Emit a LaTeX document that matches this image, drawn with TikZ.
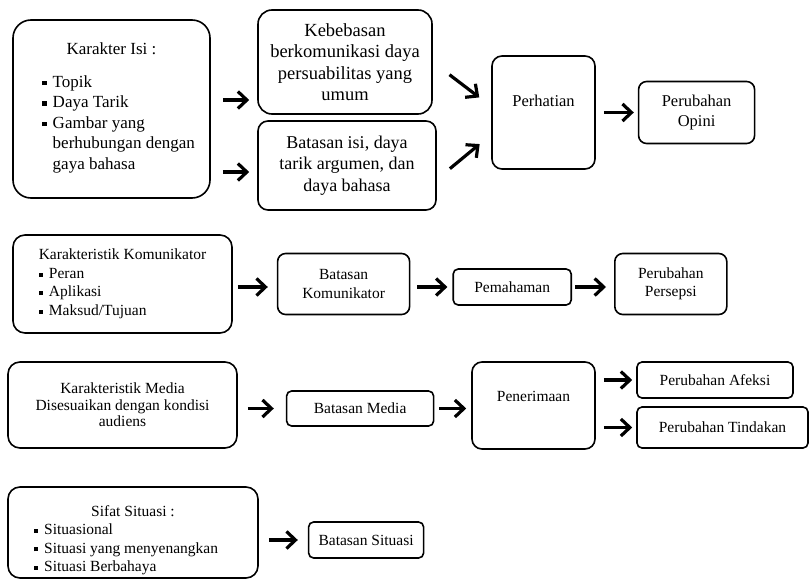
\documentclass[tikz,border=0pt]{standalone}
\usepackage{fontspec}
\setmainfont{Liberation Serif}
\usepackage{tikz}
\usetikzlibrary{arrows.meta, positioning}
\newcommand{\sqb}{\raisebox{0.25ex}{\rule{0.27em}{0.27em}}\hspace{6pt}}

\begin{document}
\begin{tikzpicture}[
        x=1pt, y=-1pt,
        every node/.style={font=\fontsize{15.5}{18.5}\selectfont},
        box/.style={draw, rounded corners=6pt, line width=1.6pt, inner sep=0pt, align=center},
        arr/.style={-{Straight Barb[length=9pt,width=17pt]}, line width=3.2pt}
        ]
        \useasboundingbox (0,0) rectangle (810,580);

        % Nodes
        \node[box, rounded corners=18pt, minimum width=197pt, minimum height=178pt, font=\fontsize{17}{20.5}\selectfont] (isi) at (111.5,109)
            {Karakter Isi :\\[12pt] \hspace*{14pt}\begin{tabular}[t]{@{}l@{}}\sqb Topik\\ \sqb Daya Tarik\\ \sqb Gambar yang\\ \hphantom{\sqb}berhubungan dengan\\ \hphantom{\sqb}gaya bahasa\end{tabular}};
        \node[box, rounded corners=14pt, minimum width=174pt, minimum height=104pt, font=\fontsize{18.5}{21.5}\selectfont] (keb) at (345,62)
            {Kebebasan\\ berkomunikasi daya\\ persuabilitas yang\\ umum};
        \node[box, rounded corners=10pt, minimum width=178pt, minimum height=89pt, font=\fontsize{18}{21.5}\selectfont] (bisi) at (347,165.5)
            {Batasan isi, daya\\ tarik argumen, dan\\ daya bahasa};
        \node[box, rounded corners=10pt, minimum width=103pt, minimum height=113pt, text depth=23pt, font=\fontsize{16.5}{20}\selectfont] (perh) at (543.5,112.5) {Perhatian};
        \node[box, rounded corners=8pt, minimum width=116pt, minimum height=62pt, font=\fontsize{16.5}{20}\selectfont, right=42pt of perh] (opini) {Perubahan\\ Opini};

        \node[box, rounded corners=12pt, minimum width=219pt, minimum height=98pt, align=left] (kk) at (122.5,284)
            {Karakteristik Komunikator\\ \sqb Peran\\ \sqb Aplikasi\\ \sqb Maksud/Tujuan};
        \node[box, rounded corners=8pt, minimum width=132pt, minimum height=61pt, right=44pt of kk] (bkom) {Batasan\\ Komunikator};
        \node[box, rounded corners=5pt, minimum width=118pt, minimum height=36pt, right=42pt of bkom, yshift=-3pt] (pem) {Pemahaman};
        \node[box, rounded corners=8pt, minimum width=112pt, minimum height=61pt, right=42pt of bkom.east -| pem.east] (pers) {Perubahan\\ Persepsi};

        \node[box, rounded corners=12pt, minimum width=229pt, minimum height=86pt, font=\fontsize{15.5}{16.5}\selectfont] (km) at (122.5,405)
            {Karakteristik Media\\ Disesuaikan dengan kondisi\\ audiens};
        \node[box, rounded corners=5pt, minimum width=147pt, minimum height=35pt, right=48pt of km, yshift=-3.5pt] (bmed) {Batasan Media};
        \node[box, rounded corners=10pt, minimum width=123pt, minimum height=87pt, text depth=18pt] (pen) at (533.5,405.5) {Penerimaan};
        \node[box, rounded corners=5pt, minimum width=156pt, minimum height=36pt] (afek) at (715,380) {Perubahan Afeksi};
        \node[box, rounded corners=5pt, minimum width=171pt, minimum height=41pt] (tind) at (722.5,427.5) {Perubahan Tindakan};

        \node[box, rounded corners=12pt, minimum width=250pt, minimum height=91pt, text depth=25pt] (sifat) at (133,532.5)
            {Sifat Situasi :\\ \begin{tabular}[t]{@{}l@{}}\sqb Situasional\\ \sqb Situasi yang menyenangkan\\ \sqb Situasi Berbahaya\end{tabular}\hspace*{14pt}};
        \node[box, rounded corners=5pt, minimum width=115pt, minimum height=36pt, right=49pt of sifat, yshift=-7.5pt] (bsit) {Batasan Situasi};

        % Arrows
        \draw[arr, shorten <=12pt, shorten >=8pt] ([yshift=9pt]isi.east) -- ([yshift=-38pt]keb.west);
        \draw[arr, shorten <=12pt, shorten >=8pt] ([yshift=-63pt]isi.east) -- ([yshift=-6.5pt]bisi.west);
        \draw[arr, shorten <=21pt, shorten >=15pt] (keb.east) -- ([yshift=6pt]perh.west);
        \draw[arr, shorten <=17pt, shorten >=15pt] ([yshift=-14pt]bisi.east) -- ([yshift=-22pt]perh.west);
        \draw[arr, shorten <=8pt, shorten >=4pt] (perh) -- (opini);

        \draw[arr, shorten <=5pt, shorten >=9pt] (kk.east |- pem.west) -- (bkom.west |- pem.west);
        \draw[arr, shorten <=7pt, shorten >=5pt] (bkom.east |- pem.west) -- (pem.west);
        \draw[arr, shorten <=3pt, shorten >=8pt] (pem.east) -- (pers.west |- pem.east);

        \draw[arr, shorten <=10pt, shorten >=12pt] (km.east |- bmed.west) -- (bmed.west);
        \draw[arr, shorten <=5pt, shorten >=5pt] (bmed.east) -- (bmed.east -| pen.west);
        \draw[arr, shorten <=8pt, shorten >=4pt] (pen.east |- afek.west) -- (afek.west);
        \draw[arr, shorten <=8pt, shorten >=4pt] (pen.east |- tind.west) -- (tind.west);

        \draw[arr, shorten <=10pt, shorten >=10pt] (sifat.east |- bsit.west) -- (bsit.west);
    \end{tikzpicture}
\end{document}
